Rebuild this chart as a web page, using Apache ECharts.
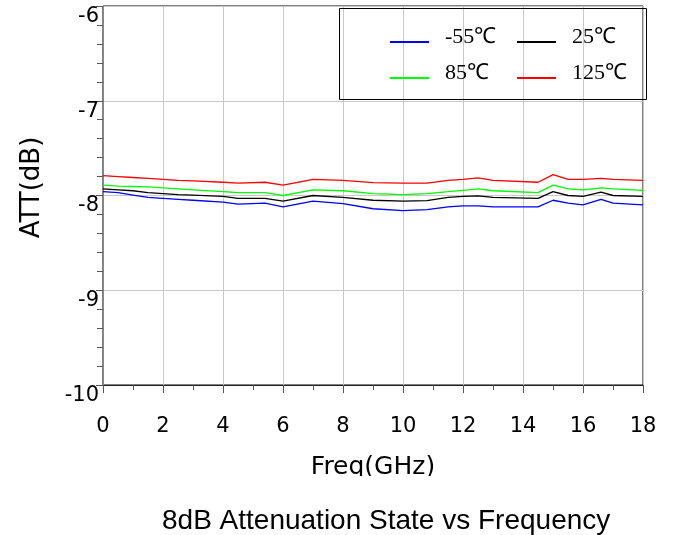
<!DOCTYPE html>
<html>
<head>
<meta charset="utf-8">
<script src="https://cdn.jsdelivr.net/npm/echarts@6/dist/echarts.min.js"></script>
<style>
  html, body { margin: 0; padding: 0; background: #fff; }
  #chart-container { width: 677px; height: 535px; }
</style>
</head>
<body>
<div id="chart-container"></div>
<script>
// Frequency points (GHz)
const freq = [0, 0.5, 1, 1.5, 2, 2.5, 3, 4, 4.5, 5.4, 6, 7, 8, 9, 10, 10.8, 11.5, 12, 12.5, 13, 14.5, 15, 15.5, 16, 16.6, 17, 18];

// ATT (dB) per temperature
const attM55 = [-7.96, -7.97, -7.995, -8.02, -8.03, -8.04, -8.05, -8.07, -8.09, -8.08, -8.12, -8.06, -8.085, -8.14, -8.16, -8.15, -8.12, -8.11, -8.11, -8.12, -8.12, -8.05, -8.08, -8.10, -8.04, -8.08, -8.10];
const att25 = [-7.93, -7.94, -7.95, -7.97, -7.98, -7.99, -7.995, -8.01, -8.03, -8.03, -8.06, -8.00, -8.02, -8.05, -8.06, -8.055, -8.02, -8.01, -8.005, -8.02, -8.03, -7.96, -8.00, -8.01, -7.965, -8.00, -8.01];
const att85 = [-7.89, -7.90, -7.905, -7.91, -7.92, -7.93, -7.94, -7.96, -7.97, -7.97, -8.00, -7.94, -7.95, -7.98, -7.99, -7.98, -7.96, -7.945, -7.93, -7.95, -7.97, -7.89, -7.93, -7.94, -7.92, -7.93, -7.945];
const att125 = [-7.79, -7.80, -7.81, -7.82, -7.83, -7.84, -7.845, -7.86, -7.87, -7.86, -7.89, -7.83, -7.84, -7.865, -7.87, -7.87, -7.84, -7.83, -7.815, -7.84, -7.86, -7.78, -7.83, -7.83, -7.82, -7.83, -7.84];

const seriesNames = ['-55℃', '25℃', '85℃', '125℃'];
const seriesColors = ['#0000ff', '#000000', '#00ff00', '#ff0000'];
const seriesValues = [attM55, att25, att85, att125];

const xTicks = [0, 2, 4, 6, 8, 10, 12, 14, 16, 18];
const yTicks = [-10, -9, -8, -7, -6];

const axisFont = 'DejaVu Sans';

const chart = echarts.init(document.getElementById('chart-container'));

// one legend per item so each sits where the reference has it
// (icon line sits a little below the text, as in the reference)
const legendPos = [[390, 24], [517, 24], [390, 60], [517, 60]];
const legends = seriesNames.map((name, i) => ({
  data: [name],
  left: legendPos[i][0],
  top: legendPos[i][1],
  padding: 0,
  itemWidth: 39,
  itemHeight: 14,
  icon: 'path://M0,0 L0,0 M0,10 L39,10 L39,12 L0,12 Z',
  textStyle: {
    fontFamily: 'Liberation Serif',
    fontSize: 22,
    lineHeight: 26,
    color: '#000',
    padding: [0, 0, 0, 11]
  }
}));

const option = {
  animation: false,
  backgroundColor: '#fff',
  title: {
    text: '8dB Attenuation State vs Frequency',
    left: 157,
    top: 502,
    textStyle: { fontFamily: 'Liberation Sans', fontSize: 28, fontWeight: 'normal', color: '#000' }
  },
  legend: legends,
  grid: {
    left: 103,
    right: 34,
    top: 6,
    bottom: 150,
    show: true,
    borderColor: '#000',
    borderWidth: 1
  },
  xAxis: {
    type: 'value',
    min: 0,
    max: 18,
    interval: 2,
    name: 'Freq(GHz)',
    nameLocation: 'middle',
    nameGap: 70,
    nameTextStyle: { fontFamily: axisFont, fontSize: 25, color: '#000', verticalAlign: 'top' },
    axisLine: { lineStyle: { color: '#222', width: 1 } },
    axisTick: { show: true, length: 8, lineStyle: { color: '#555' } },
    minorTick: { show: true, splitNumber: 2, length: 5, lineStyle: { color: '#555' } },
    axisLabel: {
      margin: 31,
      fontFamily: axisFont,
      fontSize: 21,
      color: '#000',
      formatter: (v) => (xTicks.includes(v) ? String(v) : '')
    },
    splitLine: { show: true, lineStyle: { color: '#c8c8c8', width: 1 } }
  },
  yAxis: {
    type: 'value',
    min: -10,
    max: -6,
    interval: 1,
    name: 'ATT(dB)',
    nameLocation: 'middle',
    nameGap: 58,
    nameTextStyle: { fontFamily: axisFont, fontSize: 26, color: '#000', padding: [0, 0, 0, 16] },
    axisLine: { lineStyle: { color: '#888', width: 1 } },
    axisTick: { show: true, length: 7, lineStyle: { color: '#555' } },
    minorTick: { show: true, splitNumber: 5, length: 6, lineStyle: { color: '#555' } },
    axisLabel: {
      margin: 4,
      fontFamily: axisFont,
      fontSize: 21,
      color: '#000',
      verticalAlign: 'top',
      formatter: (v) => (yTicks.includes(v) ? String(v) : '')
    },
    splitLine: { show: true, lineStyle: { color: '#c8c8c8', width: 1 } }
  },
  series: seriesNames.map((name, i) => ({
    name: name,
    type: 'line',
    data: freq.map((f, k) => [f, seriesValues[i][k]]),
    showSymbol: false,
    symbol: 'none',
    color: seriesColors[i],
    lineStyle: { color: seriesColors[i], width: 1.3 },
    z: 3
  })),
  graphic: [
    // legend frame
    {
      type: 'rect',
      left: 337,
      top: 6,
      shape: { width: 307, height: 91 },
      style: { fill: 'none', stroke: '#000', lineWidth: 1 },
      z: 10
    },
    // the reference is cropped just below the axis name
    {
      type: 'rect',
      left: 0,
      top: 476,
      shape: { width: 677, height: 24 },
      style: { fill: '#fff' },
      z: 100
    }
  ]
};

chart.setOption(option);
</script>
</body>
</html>
